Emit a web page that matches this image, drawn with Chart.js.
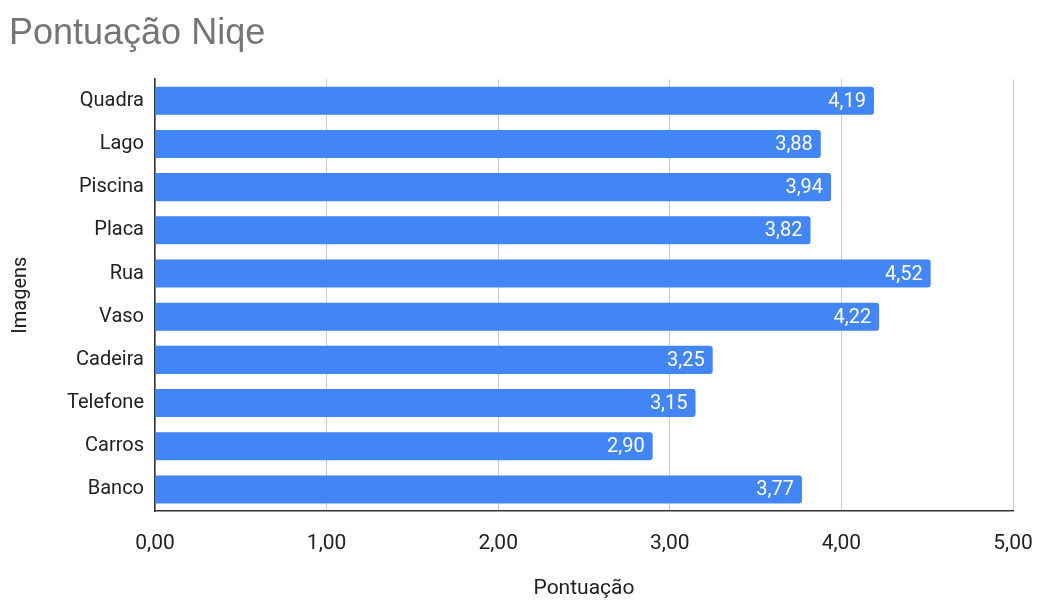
<!DOCTYPE html>
<html>
<head>
<meta charset="utf-8">
<script src="https://cdn.jsdelivr.net/npm/chart.js@4/dist/chart.umd.min.js"></script>
<style>
  body { margin: 0; background: #fff; }
  #wrap { width: 1037px; height: 601px; }
</style>
</head>
<body>
<div id="wrap"><canvas id="canvas"></canvas></div>
<script>
var imagens = ['Quadra', 'Lago', 'Piscina', 'Placa', 'Rua', 'Vaso', 'Cadeira', 'Telefone', 'Carros', 'Banco'];
var pontuacao = [4.19, 3.88, 3.94, 3.82, 4.52, 4.22, 3.25, 3.15, 2.90, 3.77];
var xTicks = [0, 1, 2, 3, 4, 5];

function virgula(v) {
    return Number(v).toFixed(2).replace('.', ',');
}

// white value labels inside the end of each bar
var barLabels = {
    id: 'barLabels',
    afterDatasetsDraw: function(chart) {
        var ctx = chart.ctx;
        var meta = chart.getDatasetMeta(0);
        ctx.save();
        ctx.fillStyle = '#ffffff';
        ctx.font = '20px Roboto';
        ctx.textAlign = 'right';
        ctx.textBaseline = 'middle';
        meta.data.forEach(function(bar, i) {
            ctx.fillText(virgula(pontuacao[i]), bar.x - 8, bar.y + 1);
        });
        ctx.restore();
    }
};

var config = {
    type: 'bar',
    data: {
        labels: imagens,
        datasets: [{
            label: 'Pontuação',
            data: pontuacao,
            backgroundColor: '#4285f4',
            borderRadius: 3,
            borderSkipped: 'start',
            barPercentage: 0.65,
            categoryPercentage: 1
        }]
    },
    options: {
        indexAxis: 'y',
        responsive: true,
        maintainAspectRatio: false,
        animation: false,
        layout: { padding: { left: 9, right: 0, top: 0, bottom: 0 } },
        plugins: {
            legend: { display: false },
            tooltip: { enabled: false },
            title: {
                display: true,
                text: 'Pontuação Niqe',
                align: 'start',
                color: '#757575',
                font: { family: 'Liberation Sans', size: 36, weight: 'normal', lineHeight: 1.2 },
                padding: { top: 12, bottom: 24 }
            }
        },
        scales: {
            x: {
                min: 0,
                max: 5,
                afterBuildTicks: function(scale) {
                    scale.ticks = xTicks.map(function(v) { return { value: v }; });
                },
                afterFit: function(scale) {
                    scale.height = 90;
                    scale.paddingRight = 24;
                },
                ticks: {
                    color: '#222',
                    font: { family: 'Roboto', size: 21 },
                    padding: 20,
                    callback: function(v) { return virgula(v); }
                },
                grid: { color: '#cccccc', lineWidth: 1, drawTicks: false },
                border: { display: true, color: '#333333', width: 1.5 },
                title: {
                    display: true,
                    text: 'Pontuação',
                    color: '#222',
                    font: { family: 'Roboto', size: 21 },
                    padding: { top: 0, bottom: 0 }
                }
            },
            y: {
                afterFit: function(scale) { scale.width = 146; },
                ticks: {
                    color: '#222',
                    font: { family: 'Roboto', size: 20 },
                    padding: 11
                },
                grid: { display: false, drawTicks: false },
                border: { display: true, color: '#333333', width: 1.5 },
                title: {
                    display: true,
                    text: 'Imagens',
                    color: '#222',
                    font: { family: 'Roboto', size: 20 },
                    padding: 0
                }
            }
        }
    },
    plugins: [barLabels]
};

window.onload = function() {
    var ctx = document.getElementById('canvas').getContext('2d');
    window.myBar = new Chart(ctx, config);
};
</script>
</body>
</html>
